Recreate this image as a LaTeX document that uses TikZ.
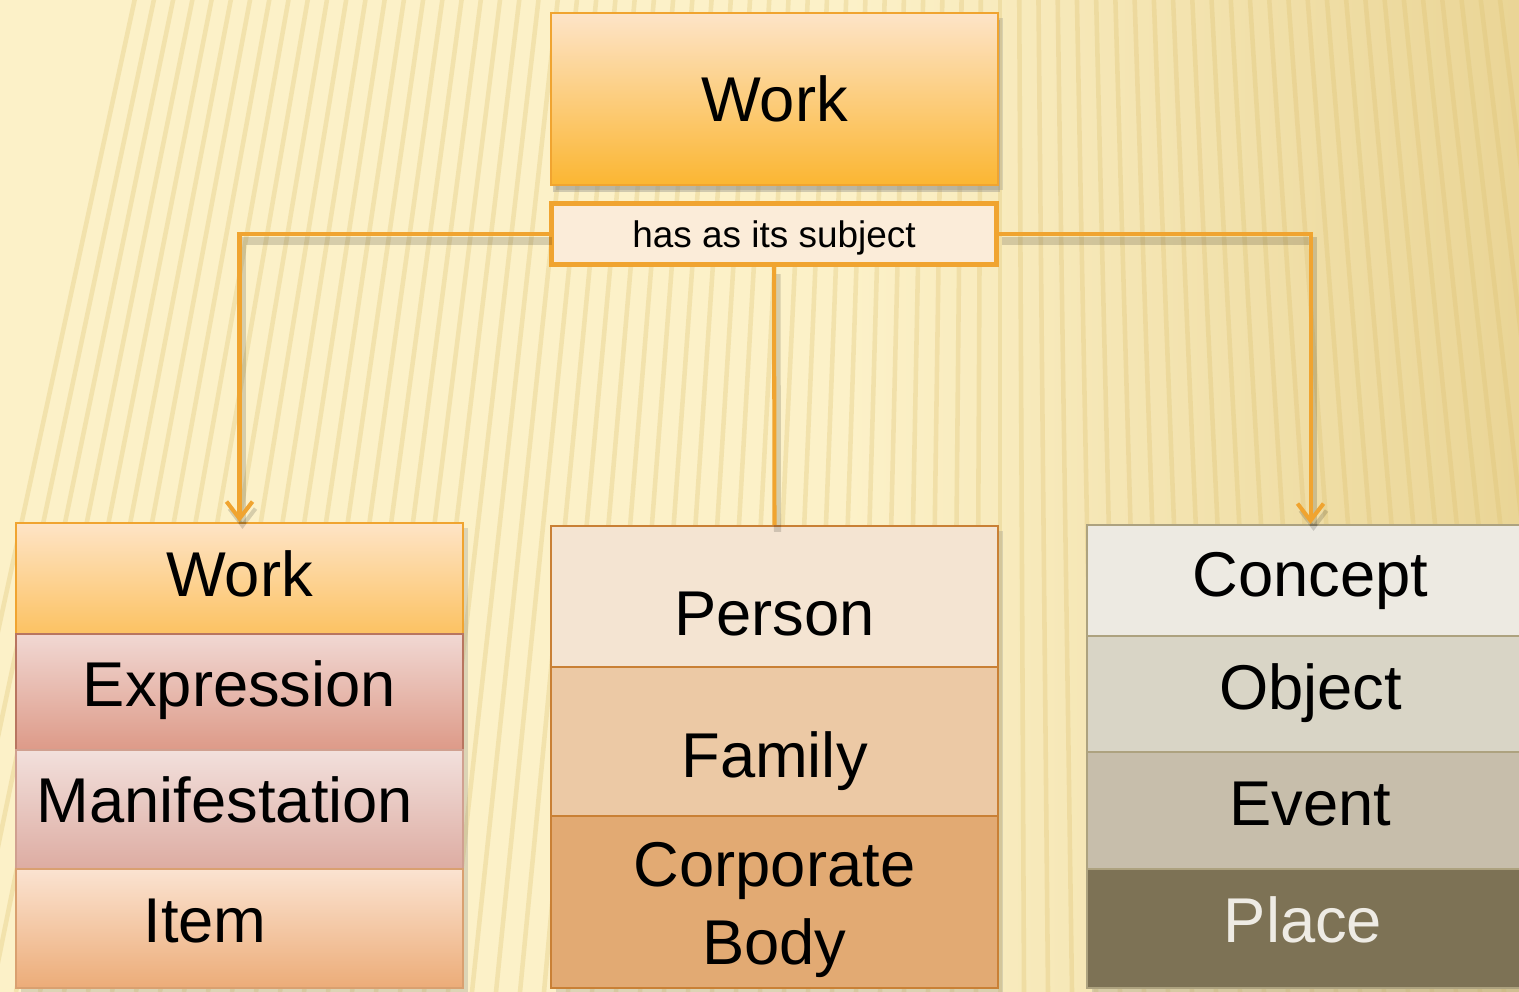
\documentclass[tikz,border=0pt]{standalone}
\usepackage{fontspec}
\setmainfont{Liberation Sans}
\usetikzlibrary{arrows.meta,shadows}

\definecolor{linkor}{HTML}{F0A430}
\definecolor{bgl}{HTML}{FCF1C8}
\definecolor{bgr}{HTML}{EAD596}
\definecolor{stripec}{HTML}{DDC06E}
\definecolor{workt}{HTML}{FDE4C8}
\definecolor{workb}{HTML}{FBB632}
\definecolor{subjf}{HTML}{FBECD9}
\definecolor{wrkt}{HTML}{FEE4C6}
\definecolor{wrkb}{HTML}{FCC262}
\definecolor{exprt}{HTML}{F1D8D3}
\definecolor{exprb}{HTML}{DD9A88}
\definecolor{exprd}{HTML}{B87560}
\definecolor{mant}{HTML}{F2E0DC}
\definecolor{manb}{HTML}{DDACA2}
\definecolor{mand}{HTML}{D0A090}
\definecolor{itemt}{HTML}{FBE3D1}
\definecolor{itemb}{HTML}{ECAC78}
\definecolor{itemd}{HTML}{D9A070}
\definecolor{persf}{HTML}{F4E4D2}
\definecolor{famf}{HTML}{ECC9A5}
\definecolor{corpf}{HTML}{E2AA73}
\definecolor{midd}{HTML}{C98035}
\definecolor{concf}{HTML}{EDEAE2}
\definecolor{objf}{HTML}{D9D5C6}
\definecolor{evf}{HTML}{C7BEAB}
\definecolor{plf}{HTML}{7D7255}
\definecolor{plt}{HTML}{EEEBE4}
\definecolor{rgtd}{HTML}{ADA27F}

\tikzset{
  rowbox/.style={draw, rectangle, inner sep=0pt, line width=0.6pt, minimum width=4.47cm,
    drop shadow={opacity=0.25, shadow xshift=0.05cm, shadow yshift=-0.05cm}},
  rowtext/.style={font=\fontsize{18}{22}\selectfont, inner sep=0pt, text height=12.9pt, text depth=0pt},
  twoline/.style={font=\fontsize{18}{22}\selectfont, inner sep=0pt, align=center},
  link/.style={draw=linkor, line width=1.15pt,
    preaction={draw=black, opacity=0.15, line width=2pt, transform canvas={xshift=0.03cm, yshift=-0.07cm}}},
  stripe/.style={stripec, line width=1.3pt, opacity=0.3},
  tip/.style={-{Straight Barb[length=0.17cm, width=0.26cm, line width=1.15pt]}}
}

\begin{document}
\begin{tikzpicture}[x=0.01cm, y=-0.01cm]
  \useasboundingbox (0,0) rectangle (1519,992);
  % background
  \fill[bgl] (0,0) rectangle (1519,992);
  \shade[left color=bgl, right color=bgr] (850,0) rectangle (1519,992);
  \begin{scope}
    \clip (0,0) rectangle (1519,992);
    \foreach \i in {-45,...,26}
      \draw[stripe] (1000,-4000) -- (1000+\i*24, 992);
  \end{scope}

  % top
  \node[rowbox, draw=linkor, top color=workt, bottom color=workb, minimum height=1.72cm,
    drop shadow={opacity=0.35, shadow xshift=0.02cm, shadow yshift=-0.07cm},
    font=\fontsize{18}{22}\selectfont] (work) at (774.5,99) {Work};
  \node[draw=linkor, line width=1.45pt, fill=subjf, inner sep=0pt, minimum width=4.45cm,
    minimum height=0.61cm, text height=7.6pt, text depth=0pt,
    font=\fontsize{10.5}{12}\selectfont] (subj) at (774,234) {has as its subject};

  % left column
  \node[rowbox, draw=linkor, top color=wrkt, bottom color=wrkb, minimum height=1.11cm,
    label={[rowtext, yshift=0.05cm]center:Work}] (wrk) at (239.5,578.5) {};
  \node[rowbox, draw=exprd, top color=exprt, bottom color=exprb, minimum height=1.16cm,
    label={[rowtext, yshift=0.08cm]center:Expression}] (expr) at (239.5,692) {};
  \node[rowbox, draw=mand, top color=mant, bottom color=manb, minimum height=1.19cm,
    label={[rowtext, xshift=-0.145cm, yshift=0.095cm]center:Manifestation}] (manif) at (239.5,809.5) {};
  \node[rowbox, draw=itemd, top color=itemt, bottom color=itemb, minimum height=1.19cm,
    label={[rowtext, xshift=-0.345cm, yshift=0.09cm]center:Item}] (item) at (239.5,928.5) {};

  % middle column
  \node[rowbox, draw=midd, fill=persf, minimum height=1.41cm,
    label={[rowtext, yshift=-0.165cm]center:Person}] (person) at (774.5,596.5) {};
  \node[rowbox, draw=midd, fill=famf, minimum height=1.49cm,
    label={[rowtext, yshift=-0.13cm]center:Family}] (family) at (774.5,741.5) {};
  \node[rowbox, draw=midd, fill=corpf, minimum height=1.72cm,
    label={[twoline, yshift=-0.08cm]center:Corporate\\Body}] (corp) at (774.5,902) {};

  % right column
  \node[rowbox, draw=rgtd, fill=concf, minimum height=1.11cm,
    label={[rowtext, yshift=0.065cm]center:Concept}] (concept) at (1310.5,580.5) {};
  \node[rowbox, draw=rgtd, fill=objf, minimum height=1.16cm,
    label={[rowtext, yshift=0.075cm]center:Object}] (object) at (1310.5,694) {};
  \node[rowbox, draw=rgtd, fill=evf, minimum height=1.17cm,
    label={[rowtext, yshift=0.08cm]center:Event}] (event) at (1310.5,810.5) {};
  \node[rowbox, draw=rgtd, fill=plf, minimum height=1.19cm,
    label={[rowtext, text=plt, xshift=-0.075cm, yshift=0.085cm]center:Place}] (place) at (1310.5,928.5) {};

  % links
  \draw[link, tip] (subj.west) -| (wrk.north);
  \draw[link, tip] (subj.east) -| (concept.north);
  \draw[link] (subj.south) -- (person.north);
\end{tikzpicture}
\end{document}
